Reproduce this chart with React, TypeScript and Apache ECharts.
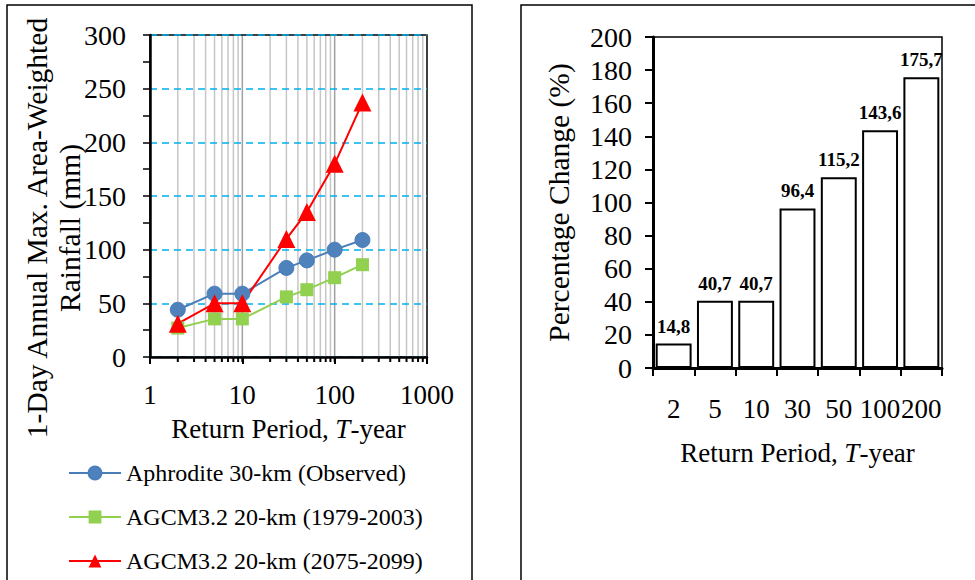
import React, { useEffect, useRef } from "react";
import * as echarts from "echarts";

// ---- data ----
const returnPeriods = [2, 5, 10, 30, 50, 100, 200];
const observedRain = [44, 59, 59, 83, 90, 100, 109];
const baselineRain = [27, 35.5, 35.5, 56, 62.7, 73.9, 86];
const futureRain = [31, 50, 50, 110, 135, 180, 237];
const seriesNames = [
  "Aphrodite 30-km (Observed)",
  "AGCM3.2 20-km (1979-2003)",
  "AGCM3.2 20-km (2075-2099)",
];
const barCategories = ["2", "5", "10", "30", "50", "100", "200"];
const pctChange = [14.8, 40.7, 40.7, 96.4, 115.2, 143.6, 175.7];

const FONT = "'Liberation Serif', 'Times New Roman', serif";

// log-axis gridline values (2..9 x each decade, plus inner decades)
const logDecades = [1, 10, 100];
const logGrid: number[][] = [];
logDecades.forEach((d) => {
  for (let k = 2; k <= 10; k++) {
    const v = k * d;
    if (v < 1000) logGrid.push([v, k === 10 ? 1 : 0]);
  }
});

export default function App() {
  const ref = useRef<HTMLDivElement>(null);
  useEffect(() => {
    if (!ref.current) return;
    const chart = echarts.init(ref.current, null, { renderer: "svg" });
    const pair = (arr: number[]) => arr.map((v, i) => [returnPeriods[i], v]);
    const nameRich = {
      a: { fontSize: 27, fontFamily: FONT, color: "#000" },
      i: { fontSize: 27, fontFamily: FONT, color: "#000", fontStyle: "italic" },
    };
    const option: any = {
      animation: false,
      backgroundColor: "#fff",
      textStyle: { fontFamily: FONT, color: "#000" },
      graphic: [
        {
          type: "rect",
          shape: { x: 7, y: 5, width: 465, height: 620 },
          style: { fill: "none", stroke: "#000", lineWidth: 1.5 },
          silent: true,
        },
        {
          type: "rect",
          shape: { x: 521, y: 5, width: 480, height: 620 },
          style: { fill: "none", stroke: "#000", lineWidth: 1.5 },
          silent: true,
        },
        {
          type: "text",
          x: 53,
          y: 228,
          rotation: Math.PI / 2,
          style: {
            text: "1-Day Annual Max. Area-Weighted\nRainfall (mm)",
            font: `29.5px ${FONT}`,
            lineHeight: 33,
            fill: "#000",
            align: "center",
            verticalAlign: "middle",
          },
        },
      ],
      grid: [
        {
          left: 150,
          top: 35,
          width: 277,
          height: 322,
          show: true,
          borderColor: "#000",
          borderWidth: 1.5,
        },
        {
          left: 653,
          top: 37,
          width: 289,
          height: 331,
          show: true,
          borderColor: "#000",
          borderWidth: 1.5,
        },
      ],
      legend: {
        orient: "vertical",
        left: 68,
        top: 460,
        height: 140,
        padding: 0,
        itemWidth: 52,
        itemHeight: 16,
        itemGap: 18,
        data: seriesNames,
        textStyle: { fontSize: 24, fontFamily: FONT, color: "#000", lineHeight: 26 },
      },
      xAxis: [
        {
          type: "log",
          logBase: 10,
          min: 1,
          max: 1000,
          gridIndex: 0,
          z: 3,
          name: "{a|Return Period, }{i|T}{a|-year}",
          nameLocation: "middle",
          nameGap: 58,
          nameTextStyle: { rich: nameRich },
          axisLine: { show: true, lineStyle: { color: "#000", width: 2.5 } },
          axisTick: { show: true, length: 7, lineStyle: { color: "#000", width: 2 } },
          axisLabel: {
            fontSize: 27,
            fontFamily: FONT,
            color: "#000",
            margin: 24,
            formatter: (v: number) => String(Math.round(v)),
          },
          splitLine: { show: false },
        },
        {
          type: "category",
          gridIndex: 1,
          data: barCategories,
          z: 3,
          name: "{a|Return Period, }{i|T}{a|-year}",
          nameLocation: "middle",
          nameGap: 71,
          nameTextStyle: { rich: nameRich },
          axisLine: { show: true, lineStyle: { color: "#000", width: 3 } },
          axisTick: { show: true, length: 8, alignWithLabel: false, lineStyle: { color: "#000", width: 2 } },
          axisLabel: { interval: 0, fontSize: 27, fontFamily: FONT, color: "#000", margin: 27 },
          splitLine: { show: false },
        },
      ],
      yAxis: [
        {
          type: "value",
          gridIndex: 0,
          min: 0,
          max: 300,
          interval: 50,
          z: 3,
          axisLine: { show: true, lineStyle: { color: "#000", width: 2.5 } },
          axisTick: { show: true, length: 7, lineStyle: { color: "#000", width: 1.5 } },
          minorTick: { show: true, splitNumber: 2, length: 7, lineStyle: { color: "#000", width: 1.5 } },
          axisLabel: { fontSize: 28, fontFamily: FONT, color: "#000", margin: 24 },
          splitLine: {
            show: true,
            lineStyle: { color: "#00B0F0", width: 1.5, type: [7, 5] },
          },
        },
        {
          type: "value",
          gridIndex: 1,
          min: 0,
          max: 200,
          interval: 20,
          z: 3,
          name: "Percentage Change (%)",
          nameLocation: "middle",
          nameGap: 79,
          nameTextStyle: { fontSize: 29.5, fontFamily: FONT, color: "#000" },
          axisLine: { show: true, lineStyle: { color: "#000", width: 3 } },
          axisTick: { show: true, length: 8, lineStyle: { color: "#000", width: 2 } },
          axisLabel: { fontSize: 28, fontFamily: FONT, color: "#000", margin: 21 },
          splitLine: { show: false },
        },
      ],
      series: [
        {
          type: "custom",
          xAxisIndex: 0,
          yAxisIndex: 0,
          z: 1,
          silent: true,
          data: logGrid,
          renderItem: (params: any, api: any) => {
            const v = api.value(0);
            const major = api.value(1) === 1;
            const top = api.coord([v, 300]);
            const bot = api.coord([v, 0]);
            return {
              type: "group",
              children: [
                {
                  type: "line",
                  shape: { x1: top[0], y1: top[1] + 1, x2: bot[0], y2: bot[1] },
                  style: { stroke: major ? "#A0A0A0" : "#C6C6C6", lineWidth: 1.5 },
                },
                {
                  type: "line",
                  shape: { x1: bot[0], y1: bot[1], x2: bot[0], y2: bot[1] + 5 },
                  style: { stroke: "#000", lineWidth: 2 },
                },
              ],
            };
          },
        },
        {
          name: seriesNames[0],
          type: "line",
          xAxisIndex: 0,
          yAxisIndex: 0,
          z: 4,
          data: pair(observedRain),
          symbol: "circle",
          symbolSize: 15,
          itemStyle: { color: "#4F81BD", borderColor: "#4A7EBB", borderWidth: 1 },
          lineStyle: { color: "#4A7EBB", width: 2 },
        },
        {
          name: seriesNames[1],
          type: "line",
          xAxisIndex: 0,
          yAxisIndex: 0,
          z: 4,
          data: pair(baselineRain),
          symbol: "rect",
          symbolSize: 13,
          itemStyle: { color: "#92D050" },
          lineStyle: { color: "#92D050", width: 2 },
        },
        {
          name: seriesNames[2],
          type: "line",
          xAxisIndex: 0,
          yAxisIndex: 0,
          z: 4,
          data: pair(futureRain),
          symbol: "triangle",
          symbolSize: 18,
          itemStyle: { color: "#FF0000" },
          lineStyle: { color: "#FF0000", width: 2 },
        },
        {
          type: "bar",
          xAxisIndex: 1,
          yAxisIndex: 1,
          z: 4,
          data: pctChange,
          barCategoryGap: "13%",
          itemStyle: { color: "#fff", borderColor: "#000", borderWidth: 2 },
          label: {
            show: true,
            position: "top",
            distance: 8,
            fontSize: 19,
            fontWeight: "bold",
            fontFamily: FONT,
            color: "#000",
            formatter: (p: any) => p.value.toFixed(1).replace(".", ","),
          },
        },
      ],
    };
    chart.setOption(option);
    return () => chart.dispose();
  }, []);
  return (
    <div
      ref={ref}
      style={{ position: "absolute", left: 0, top: 0, width: 975, height: 580, background: "#fff" }}
    />
  );
}
